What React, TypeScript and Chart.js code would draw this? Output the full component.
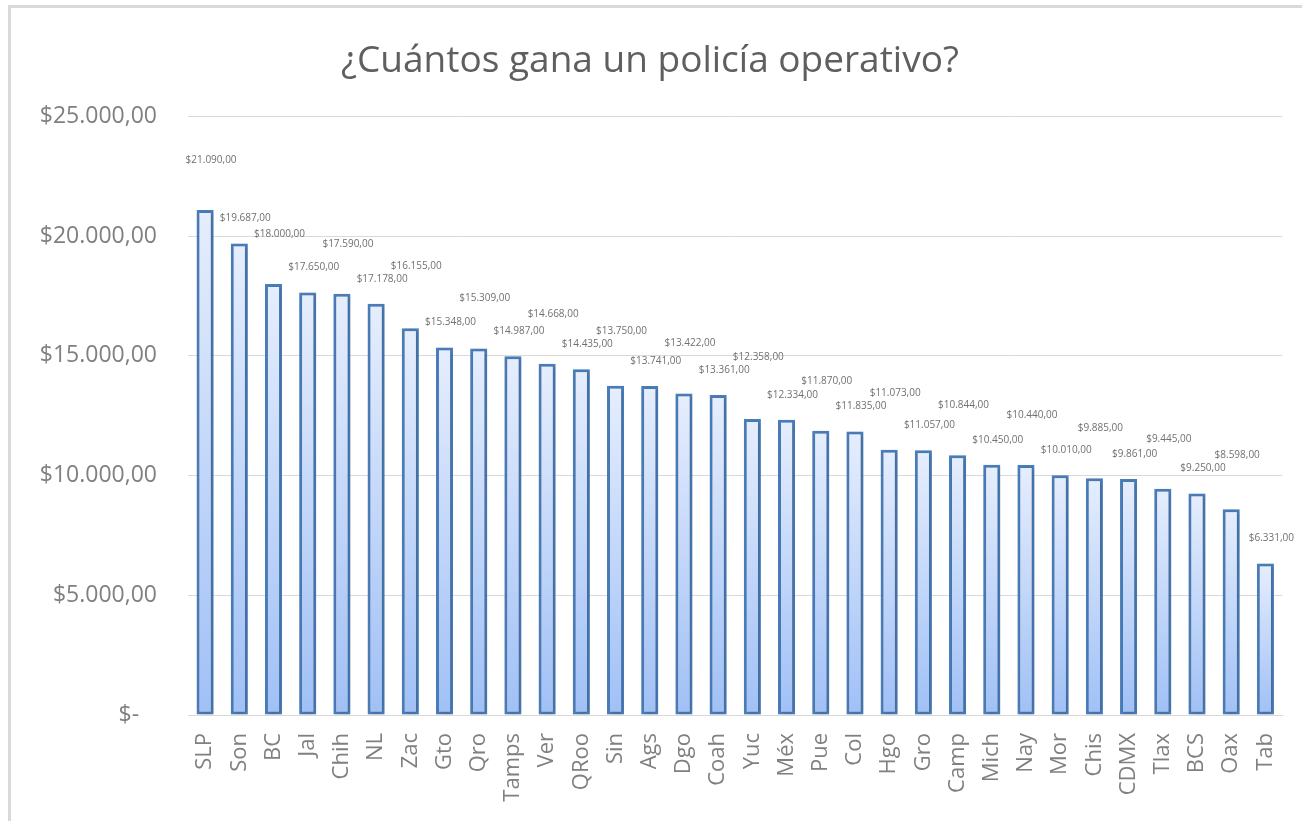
import React, { useEffect, useRef } from "react";
import { Chart, registerables } from "chart.js";

Chart.register(...registerables);

const TITLE = "¿Cuántos gana un policía operativo?";

const states: string[] = [
  "SLP", "Son", "BC", "Jal", "Chih", "NL", "Zac", "Gto", "Qro", "Tamps",
  "Ver", "QRoo", "Sin", "Ags", "Dgo", "Coah", "Yuc", "Méx", "Pue", "Col",
  "Hgo", "Gro", "Camp", "Mich", "Nay", "Mor", "Chis", "CDMX", "Tlax", "BCS",
  "Oax", "Tab",
];

const salaries: number[] = [
  21090, 19687, 18000, 17650, 17590, 17178, 16155, 15348, 15309, 14987,
  14668, 14435, 13750, 13741, 13422, 13361, 12358, 12334, 11870, 11835,
  11073, 11057, 10844, 10450, 10440, 10010, 9885, 9861, 9445, 9250,
  8598, 6331,
];

const yTicks: number[] = [0, 5000, 10000, 15000, 20000, 25000];

const FONT = "'Open Sans', 'DejaVu Sans', sans-serif";

function money(v: number): string {
  if (v === 0) return "$-   ";
  const [int, dec] = v.toFixed(2).split(".");
  const grouped = int.replace(/\B(?=(\d{3})+(?!\d))/g, ".");
  return "$" + grouped + "," + dec;
}

const shadowPlugin = {
  id: "barShadow",
  beforeDatasetDraw(chart: any) {
    const c = chart.ctx;
    c.save();
    c.shadowColor = "rgba(0,0,0,0.22)";
    c.shadowBlur = 4;
    c.shadowOffsetX = 1;
    c.shadowOffsetY = 1;
  },
  afterDatasetDraw(chart: any) {
    chart.ctx.restore();
  },
};

const labelPlugin = {
  id: "staggeredLabels",
  afterDatasetsDraw(chart: any) {
    const c = chart.ctx;
    const meta = chart.getDatasetMeta(0);
    const data = chart.data.datasets[0].data as number[];
    c.save();
    c.font = `10px ${FONT}`;
    c.fillStyle = "#707070";
    c.textAlign = "center";
    c.textBaseline = "bottom";
    const placed: { x: number; y: number; w: number }[] = [];
    const h = 13;
    meta.data.forEach((bar: any, i: number) => {
      const text = money(data[i]);
      const w = c.measureText(text).width + 2;
      const x = bar.x + 6;
      let y = bar.y - (i % 2 === 0 ? 45 : 20);
      let moved = true;
      while (moved) {
        moved = false;
        for (const p of placed) {
          if (Math.abs(p.x - x) < (p.w + w) / 2 && Math.abs(p.y - y) < h) {
            y = p.y - h;
            moved = true;
          }
        }
      }
      placed.push({ x, y, w });
      c.fillText(text, x, y);
    });
    c.restore();
  },
};

export default function App() {
  const ref = useRef<HTMLCanvasElement | null>(null);

  useEffect(() => {
    if (!ref.current) return;
    const chart = new Chart(ref.current, {
      type: "bar",
      data: {
        labels: states,
        datasets: [
          {
            data: salaries,
            backgroundColor: (ctx: any) => {
              const ch = ctx.chart;
              const ys = ch.scales && ch.scales.y;
              if (!ys || ctx.type !== "data") return "#c3d7fa";
              const top = ys.getPixelForValue(ctx.raw);
              const bottom = ys.getPixelForValue(0);
              if (!isFinite(top) || !isFinite(bottom) || top === bottom) return "#c3d7fa";
              const g = ch.ctx.createLinearGradient(0, top, 0, bottom);
              g.addColorStop(0, "#e6eefd");
              g.addColorStop(1, "#a0c0f6");
              return g;
            },
            borderColor: "#4a7ebb",
            borderWidth: 3,
            borderSkipped: false,
            barPercentage: 0.5,
            categoryPercentage: 1.0,
          },
        ],
      },
      options: {
        animation: false,
        responsive: false,
        devicePixelRatio: 1,
        layout: { padding: { left: 11, right: 13, top: 10, bottom: 0 } },
        plugins: {
          legend: { display: false },
          tooltip: { enabled: false },
          title: {
            display: true,
            text: TITLE,
            color: "#5f5f5f",
            font: { family: FONT, size: 37, weight: "normal" },
            padding: { top: 29, bottom: 33 },
          },
        },
        scales: {
          x: {
            grid: { display: false },
            border: { display: true, color: "#d9d9d9", width: 1 },
            ticks: {
              color: "#808080",
              font: { family: FONT, size: 22 },
              minRotation: 90,
              maxRotation: 90,
              autoSkip: false,
              padding: 10,
            },
            afterFit(scale: any) {
              scale.height = 106;
            },
          },
          y: {
            min: 0,
            max: 25000,
            afterBuildTicks(scale: any) {
              scale.ticks = yTicks.map((v) => ({ value: v }));
            },
            grid: { color: "#d9d9d9", lineWidth: 1, drawTicks: false },
            border: { display: false },
            ticks: {
              color: "#808080",
              font: { family: FONT, size: 23 },
              padding: 31,
              callback: (v: any) => money(Number(v)),
            },
            afterFit(scale: any) {
              scale.width = 177;
            },
          },
        },
      },
      plugins: [shadowPlugin, labelPlugin],
    });
    return () => chart.destroy();
  }, []);

  return (
    <div
      style={{
        position: "absolute",
        left: 0,
        top: 0,
        width: 1302,
        height: 821,
        overflow: "hidden",
        background: "#ffffff",
      }}
    >
      <div
        style={{
          position: "absolute",
          left: 8,
          top: 5,
          right: 0,
          bottom: 0,
          borderTop: "3px solid #d9d9d9",
          borderLeft: "3px solid #d9d9d9",
        }}
      />
      <canvas
        ref={ref}
        width={1302}
        height={821}
        style={{ position: "absolute", left: 0, top: 0, width: 1302, height: 821 }}
      />
    </div>
  );
}
